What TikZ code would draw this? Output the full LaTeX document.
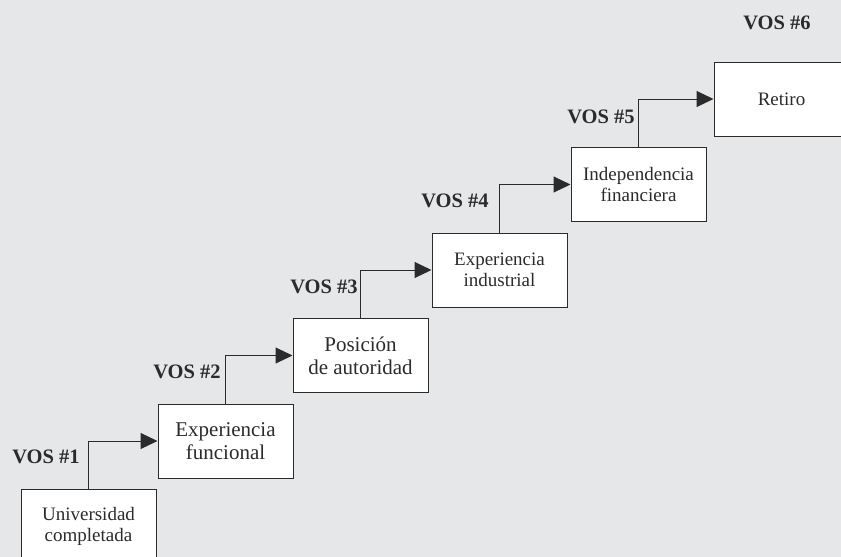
\documentclass[tikz,border=0pt]{standalone}
\usepackage{fontspec}
\setmainfont{Liberation Serif}
\usetikzlibrary{arrows.meta}
\definecolor{bggray}{HTML}{E6E7E9}
\definecolor{linegray}{HTML}{2B2B2B}
\tikzset{
  stage/.style={draw=linegray, fill=white, line width=1pt,
    minimum width=135pt, minimum height=74pt, inner sep=2pt,
    align=center, text=linegray, font=\fontsize{19}{21}\selectfont},
  bigstage/.style={stage, font=\fontsize{21}{23}\selectfont},
  vos/.style={text=linegray, font=\fontsize{20.5}{24}\selectfont\bfseries},
  link/.style={draw=linegray, line width=1pt, -{Triangle[length=17pt,width=16pt]}}
}

\begin{document}
\begin{tikzpicture}[x=1pt,y=-1pt]
  \useasboundingbox (0,0) rectangle (841,557);
  \fill [bggray] (0,0) rectangle (841,557);
  % steps of the ladder
  \node[stage] (univ) at (88.5,526) {Universidad\\completada};
  \node[bigstage] (funcional) at (225.5,441) {Experiencia\\funcional};
  \node[bigstage] (autoridad) at (360.5,355.5) {Posición\\de autoridad};
  \node[stage] (industrial) at (499.5,270) {Experiencia\\industrial};
  \node[stage] (financiera) at (638.5,184.5) {Independencia\\financiera};
  \node[stage] (retiro) at (781.5,99) {Retiro};
  % connectors
  \draw[link] (univ.north) |- (funcional.west);
  \draw[link] (funcional.north) |- (autoridad.west);
  \draw[link] (autoridad.north) |- (industrial.west);
  \draw[link] (industrial.north) |- (financiera.west);
  \draw[link] (financiera.north) |- (retiro.west);
  % labels
  \node[vos] (vos1) at (46,457) {VOS \#1};
  \node[vos] (vos2) at (187,372) {VOS \#2};
  \node[vos] (vos3) at (324,287) {VOS \#3};
  \node[vos] (vos4) at (455,201) {VOS \#4};
  \node[vos] (vos5) at (601,117) {VOS \#5};
  \node[vos] (vos6) at (777,23) {VOS \#6};
\end{tikzpicture}
\end{document}
